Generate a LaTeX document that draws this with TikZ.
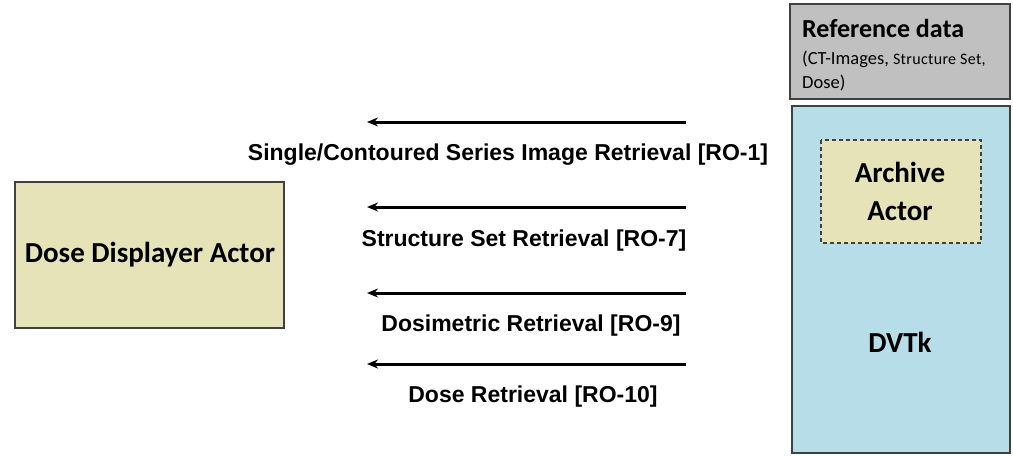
\documentclass[tikz,border=0pt]{standalone}
\usepackage{fontspec}
\setmainfont{Carlito}
\newfontfamily\arialf{Liberation Sans}
\usetikzlibrary{arrows.meta}
\definecolor{tanfill}{RGB}{230,227,185}
\definecolor{bluefill}{RGB}{183,222,232}
\definecolor{grayfill}{RGB}{192,192,192}
\definecolor{edge}{RGB}{64,64,64}
\begin{document}
\begin{tikzpicture}[x=1pt,y=-1pt,
  boxstyle/.style={draw=edge,line width=1.2pt},
  arr/.style={-{Stealth[length=11pt,width=9pt]},line width=3pt,black},
  lbl/.style={font=\arialf\bfseries\fontsize{23}{26}\selectfont,inner sep=0pt},
  bigtxt/.style={font=\bfseries\fontsize{29}{32}\selectfont,inner sep=0pt}]
\useasboundingbox (0,0) rectangle (1013,456);
% boxes
\draw[boxstyle,fill=tanfill] (15,182) rectangle (284,328);
\node[bigtxt] (dd) at (150,255) {Dose Displayer Actor};
\draw[boxstyle,fill=grayfill] (790,4) rectangle (1010,99);
\node[font=\bfseries\fontsize{26}{28}\selectfont,inner sep=0pt,anchor=base west] (ref) at (802,37) {Reference data};
\node[font=\fontsize{18.5}{20}\selectfont,inner sep=0pt,anchor=base west] (refs) at (802,64) {(CT-Images,\ {\fontsize{16}{18}\selectfont\addfontfeature{LetterSpace=2} Structure Set,}};
\node[font=\fontsize{18.5}{20}\selectfont,inner sep=0pt,anchor=base west] (refd) at (802,88) {Dose)};
\draw[boxstyle,fill=bluefill] (792,106) rectangle (1010,453);
\draw[draw=edge,line width=1.2pt,dash pattern=on 4pt off 3pt,fill=tanfill] (821,140) rectangle (981,243);
\node[bigtxt] (arch) at (900,172) {Archive};
\node[bigtxt] (archb) at (900,211) {Actor};
\node[bigtxt] (dvtk) at (900,342) {DVTk};
% arrows
\coordinate (a1r) at (686,122); \coordinate (a1l) at (367,122);
\coordinate (a2r) at (686,207); \coordinate (a2l) at (367,207);
\coordinate (a3r) at (686,293); \coordinate (a3l) at (367,293);
\coordinate (a4r) at (686,364); \coordinate (a4l) at (367,364);
\draw[arr] (a1r) -- (a1l);
\draw[arr] (a2r) -- (a2l);
\draw[arr] (a3r) -- (a3l);
\draw[arr] (a4r) -- (a4l);
\node[lbl] (l1) at (508,155) {Single/Contoured Series Image Retrieval [RO-1]};
\node[lbl] (l2) at (524,241) {Structure Set Retrieval [RO-7]};
\node[lbl] (l3) at (531,326) {Dosimetric Retrieval [RO-9]};
\node[lbl] (l4) at (533,397) {Dose Retrieval [RO-10]};
\end{tikzpicture}
\end{document}
